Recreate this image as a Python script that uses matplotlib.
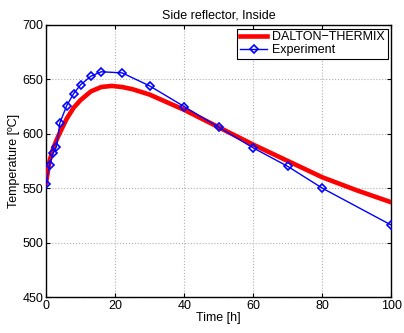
import matplotlib
matplotlib.use("Agg")
import matplotlib.pyplot as plt

plt.rcParams['font.family'] = ['Liberation Sans', 'DejaVu Sans']

# Experiment data
exp_t = [0, 1, 2, 3, 4, 6, 8, 10, 13, 16, 22, 30, 40, 50, 60, 70, 80, 100]
exp_T = [554, 571, 582, 588, 610, 626, 637, 645, 653, 657, 656, 644, 625, 606, 587, 570, 550, 516]

# DALTON-THERMIX model
mod_t = [0, 1, 2, 3, 4, 6, 8, 10, 13, 16, 19, 22, 25, 30, 35, 40, 50, 60, 70, 80, 90, 100]
mod_T = [555, 575, 586, 594, 601, 614, 624, 631, 639, 643, 644, 643, 641, 636, 629, 622, 606, 590, 575, 560, 548, 537]

fig = plt.figure(figsize=(4.04, 3.33), dpi=100)
ax = fig.add_axes([0.114, 0.108, 0.855, 0.817])

ax.plot(mod_t, mod_T, color='#ff0000', lw=3.3, label='DALTON\u2212THERMIX', zorder=3)
ax.plot(exp_t, exp_T, color='#0000ff', lw=1, marker='D', ms=4, mfc='none', mec='#0000ff',
        mew=1.2, label='Experiment', zorder=4)

ax.set_xlim(0, 100)
ax.set_ylim(450, 700)
ax.set_xticks([0, 20, 40, 60, 80, 100])
ax.set_yticks([450, 500, 550, 600, 650, 700])
ax.grid(True, linestyle=':', color='#b0b0b0', lw=0.8)
ax.tick_params(direction='in', top=True, right=True, labelsize=9, length=3, pad=2)
for s in ax.spines.values():
    s.set_linewidth(1)
ax.set_title('Side reflector, Inside', fontsize=9, pad=5)
ax.set_xlabel('Time [h]', fontsize=9, labelpad=0)
ax.set_ylabel('Temperature [\u00baC]', fontsize=9, labelpad=2)
leg = ax.legend(loc='upper right', fontsize=9, frameon=True, fancybox=False,
                edgecolor='black', framealpha=1, borderaxespad=0.3, handlelength=2.2,
                borderpad=0.2, labelspacing=0.1, handletextpad=0.4)
leg.get_frame().set_linewidth(0.8)

fig.savefig('out.png', dpi=100)
